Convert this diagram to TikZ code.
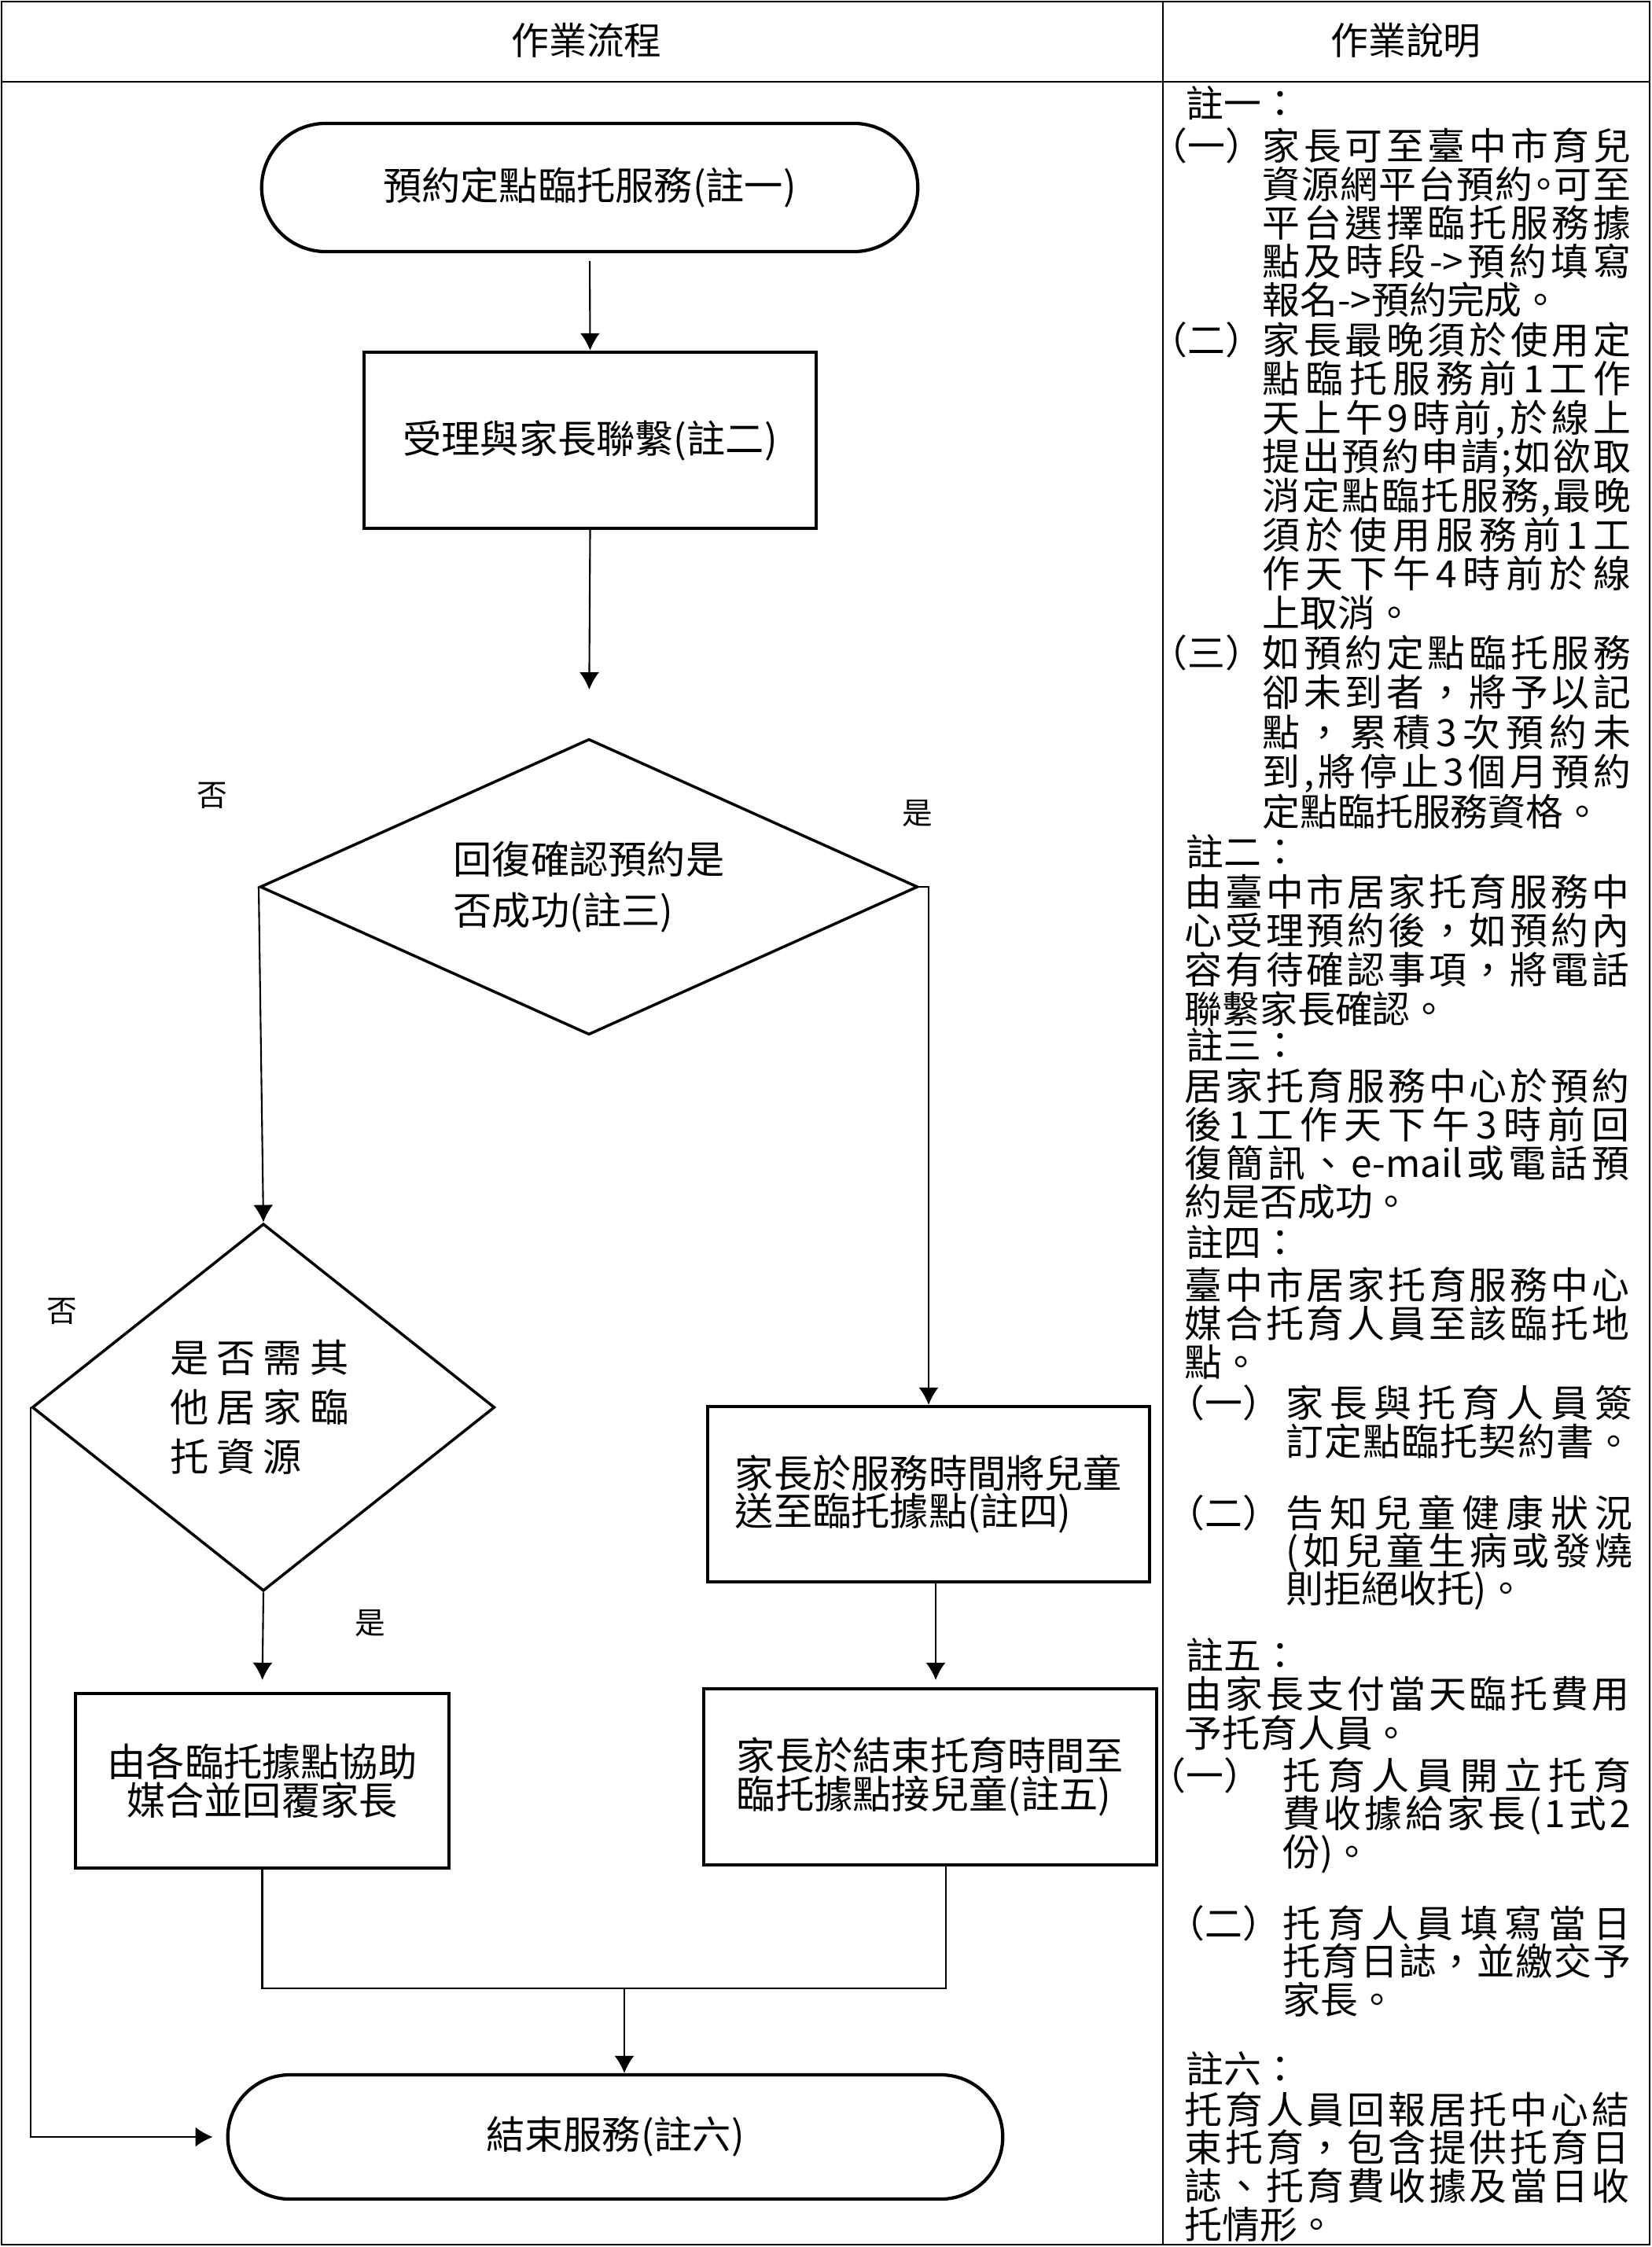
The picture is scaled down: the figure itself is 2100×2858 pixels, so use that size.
\documentclass[tikz,border=0pt]{standalone}
\usepackage{fontspec}
\setmainfont{Noto Sans CJK TC}
\usetikzlibrary{arrows.meta,shapes.geometric,shapes.misc}

\newcommand\flowfont{\fontsize{14}{13.8}\selectfont}
\newcommand\notefont{\fontsize{13.6}{14}\selectfont}

\makeatletter
\newcommand\spl[2]{\hbox to #1{\spl@#2\@nil\unskip}}
\def\spl@#1{\ifx\@nil#1\else#1\hfill\expandafter\spl@\fi}
\newcommand\gl[2]{\def\gl@w{#1}\gl@#2\@nil}
\def\gl@#1{\ifx\@nil#1\else\makebox[\gl@w][l]{#1}\expandafter\gl@\fi}
\makeatother

\begin{document}
\begin{tikzpicture}[x=0.01cm, y=-0.01cm,
  frameline/.style={line width=0.6pt},
  flowline/.style={line width=0.6pt},
  flowarr/.style={line width=0.6pt, -{Latex[length=2.2mm,width=2.5mm]}},
  stadium/.style={rounded rectangle, draw, line width=1.2pt, inner sep=0pt, font=\flowfont},
  procbox/.style={rectangle, draw, line width=1.2pt, inner sep=0pt, font=\flowfont},
  decision/.style={diamond, draw, line width=1pt, inner sep=0pt, align=left},
  notetext/.style={anchor=west, inner sep=0pt, font=\notefont, text height=0.42cm, text depth=0.06cm},
  headtext/.style={inner sep=0pt, font=\notefont},
  yesno/.style={inner sep=0pt, font=\fontsize{11}{11}\selectfont}]
\useasboundingbox (0,0) rectangle (2100,2858);

% table
\draw[frameline] (2,2) rectangle (2098,2855);
\draw[frameline] (2,104) -- (2098,104);
\draw[frameline] (1479,2) -- (1479,2855);
\node[headtext] (head1) at (746,51) {作業流程};
\node[headtext] (head2) at (1788,51) {作業說明};

% flow
\node[stadium, minimum width=8.34cm, minimum height=1.63cm] (start) at (750,238.5) {預約定點臨托服務(註一)};
\node[procbox, minimum width=5.75cm, minimum height=2.24cm] (box2) at (750.5,560) {受理與家長聯繫(註二)};
\node[decision, minimum width=8.36cm, minimum height=3.76cm, aspect=2.2, font=\fontsize{14}{18.5}\selectfont] (dia1) at (749,1128) {回復確認預約是\\否成功(註三)};
\node[decision, minimum width=5.88cm, minimum height=4.67cm, aspect=1.26, font=\fontsize{14}{17.9}\selectfont] (dia2) at (335,1790) {\gl{0.59cm}{是否需其}\\\gl{0.59cm}{他居家臨}\\\gl{0.59cm}{托資源}};
\node[procbox, align=left, minimum width=5.62cm, minimum height=2.23cm] (box4) at (1181,1900.5) {家長於服務時間將兒童\\送至臨托據點(註四)};
\node[procbox, align=center, minimum width=4.75cm, minimum height=2.22cm] (box3) at (333.5,2265) {由各臨托據點協助\\媒合並回覆家長};
\node[procbox, align=left, minimum width=5.76cm, minimum height=2.24cm] (box5) at (1183,2260) {家長於結束托育時間至\\臨托據點接兒童(註五)};
\node[stadium, minimum width=9.85cm, minimum height=1.58cm] (end) at (782.5,2718) {結束服務(註六)};

\node[yesno] (no1) at (270,1012) {否};
\node[yesno] (yes1) at (1167,1035) {是};
\node[yesno] (no2) at (79,1668) {否};
\node[yesno] (yes2) at (471,2065) {是};

\coordinate (merge) at (794,2529);
\coordinate (riser) at (1203,2529);
\coordinate (drop) at (1190,2100);
\draw[flowarr, shorten <=0.1cm] (start.south) -- (box2.north);
\draw[flowarr, shorten >=0.61cm] (box2.south) -- (dia1.north);
\draw[flowarr] (dia1.west) -- (dia2.north);
\draw[flowarr] (dia1.east) -| (box4.north);
\draw[flowarr, shorten >=0.15cm] (dia2.south) -- (box3.north);
\draw[flowarr, shorten >=0.09cm] (drop |- box4.south) -- (drop |- box5.north);
\draw[flowline] (box3.south) |- (riser) -- (riser |- box5.south);
\draw[flowarr] (merge) -- (merge |- end.north);
\draw[flowarr, shorten >=0.17cm] (dia2.west) |- (end.west);

% notes
\node[notetext] (n1) at (1508,131) {註一：};
\node[notetext] (n1a) at (1462,185) {（一）};
\def\bw{4.68cm}
\foreach \t [count=\i from 0] in {{\spl{\bw}{家長可至臺中市育兒}},
  {\spl{\bw}{資源網平台預約{\makebox[0.5em][c]{。}}可至}},
  {\spl{\bw}{平台選擇臨托服務據}},
  {\spl{\bw}{點及時段{->}預約填寫}},
  {報名->預約完成。}}
  \node[notetext] (n1a-\i) at (1605,185+49*\i) {\t};
\node[notetext] (n1b) at (1462,432) {（二）};
\foreach \t [count=\i from 0] in {{\spl{\bw}{家長最晚須於使用定}},
  {\spl{\bw}{點臨托服務前1工作}},
  {\spl{\bw}{天上午9時前,於線上}},
  {\spl{\bw}{提出預約申請;如欲取}},
  {\spl{\bw}{消定點臨托服務,最晚}},
  {\spl{\bw}{須於使用服務前1工}},
  {\spl{\bw}{作天下午4時前於線}},
  {上取消。}}
  \node[notetext] (n1b-\i) at (1605,432+49.6*\i) {\t};
\node[notetext] (n1c) at (1462,830) {（三）};
\foreach \t [count=\i from 0] in {{\spl{\bw}{如預約定點臨托服務}},
  {\spl{\bw}{卻未到者，將予以記}},
  {\spl{\bw}{點，累積3次預約未}},
  {\spl{\bw}{到,將停止3個月預約}},
  {定點臨托服務資格。}}
  \node[notetext] (n1c-\i) at (1605,830+50.5*\i) {\t};

\def\bw{5.65cm}
\node[notetext] (n2) at (1508,1083) {註二：};
\foreach \t [count=\i from 0] in {{\spl{\bw}{由臺中市居家托育服務中}},
  {\spl{\bw}{心受理預約後，如預約內}},
  {\spl{\bw}{容有待確認事項，將電話}},
  {聯繫家長確認。}}
  \node[notetext] (n2-\i) at (1506,1134+49.7*\i) {\t};
\node[notetext] (n3) at (1508,1329) {註三：};
\foreach \t [count=\i from 0] in {{\spl{\bw}{居家托育服務中心於預約}},
  {\spl{\bw}{後1工作天下午3時前回}},
  {\spl{\bw}{復簡訊、{e-mail}或電話預}},
  {約是否成功。}}
  \node[notetext] (n3-\i) at (1506,1381+49.3*\i) {\t};
\node[notetext] (n4) at (1508,1580) {註四：};
\foreach \t [count=\i from 0] in {{\spl{\bw}{臺中市居家托育服務中心}},
  {\spl{\bw}{媒合托育人員至該臨托地}},
  {點。}}
  \node[notetext] (n4-\i) at (1506,1634+49*\i) {\t};

\def\bw{4.40cm}
\node[notetext] (n4a) at (1484,1784) {（一）};
\foreach \t [count=\i from 0] in {{\spl{\bw}{家長與托育人員簽}},
  {\spl{\bw}{訂定點臨托契約書。}}}
  \node[notetext] (n4a-\i) at (1635,1784+49*\i) {\t};
\node[notetext] (n4b) at (1484,1924) {（二）};
\foreach \t [count=\i from 0] in {{\spl{\bw}{告知兒童健康狀況}},
  {\spl{\bw}{(如兒童生病或發燒}},
  {則拒絕收托)。}}
  \node[notetext] (n4b-\i) at (1635,1924+48*\i) {\t};

\def\bw{5.65cm}
\node[notetext] (n5) at (1508,2105) {註五：};
\foreach \t [count=\i from 0] in {{\spl{\bw}{由家長支付當天臨托費用}},
  {予托育人員。}}
  \node[notetext] (n5-\i) at (1506,2154+50*\i) {\t};

\def\bw{4.42cm}
\node[notetext] (n5a) at (1460,2258) {（一）};
\foreach \t [count=\i from 0] in {{\spl{\bw}{托育人員開立托育}},
  {\spl{\bw}{費收據給家長(1式2}},
  {份)。}}
  \node[notetext] (n5a-\i) at (1631,2258+48.5*\i) {\t};
\node[notetext] (n5b) at (1484,2446) {（二）};
\foreach \t [count=\i from 0] in {{\spl{\bw}{托育人員填寫當日}},
  {\spl{\bw}{托育日誌，並繳交予}},
  {家長。}}
  \node[notetext] (n5b-\i) at (1631,2446+48.5*\i) {\t};

\def\bw{5.65cm}
\node[notetext] (n6) at (1508,2631) {註六：};
\foreach \t [count=\i from 0] in {{\spl{\bw}{托育人員回報居托中心結}},
  {\spl{\bw}{束托育，包含提供托育日}},
  {\spl{\bw}{誌、托育費收據及當日收}},
  {托情形。}}
  \node[notetext] (n6-\i) at (1506,2683+48.7*\i) {\t};
\end{tikzpicture}
\end{document}
